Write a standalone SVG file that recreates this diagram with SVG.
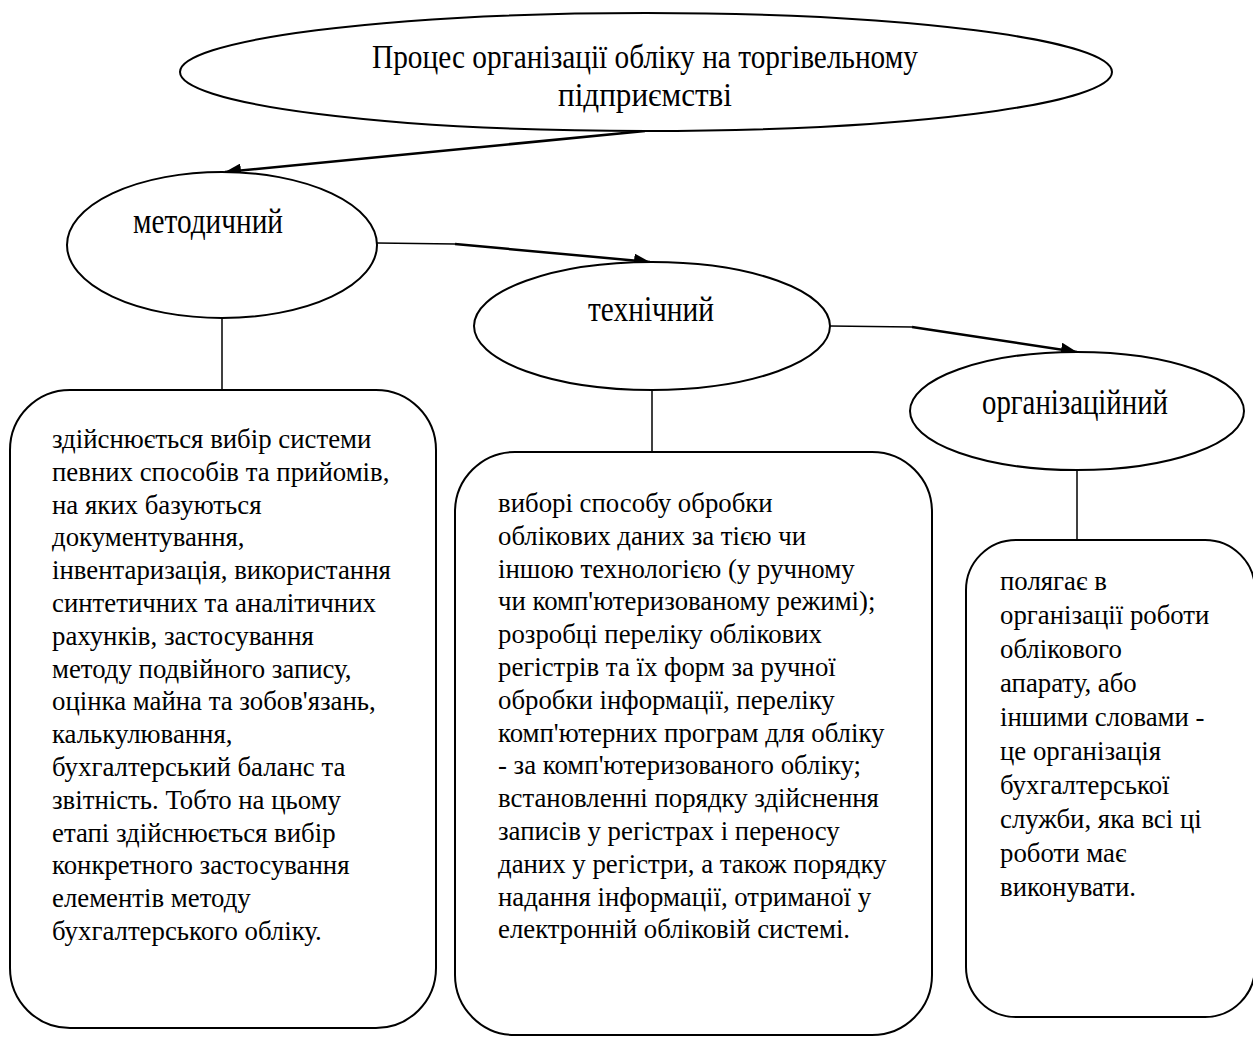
<svg xmlns="http://www.w3.org/2000/svg" width="1253" height="1037" viewBox="0 0 1253 1037">
<style>
.shape{fill:#fff;stroke:#000;stroke-width:2}
.conn{fill:none;stroke:#000;stroke-width:2.5}
.thin{fill:none;stroke:#000;stroke-width:1.5}
.lbl{font-family:"Liberation Serif","Times New Roman",serif;font-size:29px;fill:#000}
.ttl{font-family:"Liberation Serif","Times New Roman",serif;font-size:28px;fill:#000}
.body{font-family:"Liberation Serif","Times New Roman",serif;font-size:26.8px;fill:#000}
</style>
<defs>
<marker id="arr" markerUnits="userSpaceOnUse" markerWidth="18" markerHeight="14" refX="16" refY="7" orient="auto">
<path d="M0,0 L16,7 L0,14 Z" fill="#000"/>
</marker>
</defs>
<rect width="1253" height="1037" fill="#fff"/>
<g id="connectors">
<path class="conn" d="M645,131 L225,172" marker-end="url(#arr)"/>
<path class="thin" d="M377,243 L455,244"/>
<path class="conn" d="M455,244 L650,262" marker-end="url(#arr)"/>
<path class="thin" d="M830,326 L912,327"/>
<path class="conn" d="M912,327 L1077,352" marker-end="url(#arr)"/>
<path class="thin" d="M222,318 L222,390"/>
<path class="thin" d="M652,390 L652,452"/>
<path class="thin" d="M1077,470 L1077,540"/>
</g>
<g id="root">
<ellipse class="shape" cx="646" cy="72" rx="466" ry="59"/>
<text class="ttl" x="645" y="68" text-anchor="middle" textLength="546" lengthAdjust="spacingAndGlyphs" transform="translate(0,68) scale(1,1.2) translate(0,-68)">Процес організації обліку на торгівельному</text>
<text class="ttl" x="645" y="106" text-anchor="middle" textLength="174" lengthAdjust="spacingAndGlyphs" transform="translate(0,106) scale(1,1.2) translate(0,-106)">підприємстві</text>
</g>
<g id="metodychnyi">
<ellipse class="shape" cx="222" cy="245" rx="155" ry="73"/>
<text class="lbl" x="208" y="233" text-anchor="middle" textLength="150" lengthAdjust="spacingAndGlyphs" transform="translate(0,233) scale(1,1.25) translate(0,-233)">методичний</text>
</g>
<g id="tekhnichnyi">
<ellipse class="shape" cx="652" cy="326" rx="178" ry="64"/>
<text class="lbl" x="651" y="321" text-anchor="middle" textLength="126" lengthAdjust="spacingAndGlyphs" transform="translate(0,321) scale(1,1.25) translate(0,-321)">технічний</text>
</g>
<g id="orhanizatsiinyi">
<ellipse class="shape" cx="1077" cy="411" rx="167" ry="59"/>
<text class="lbl" x="1075" y="414" text-anchor="middle" textLength="186" lengthAdjust="spacingAndGlyphs" transform="translate(0,414) scale(1,1.25) translate(0,-414)">організаційний</text>
</g>
<g id="box1">
<rect class="shape" x="10" y="390" width="426" height="638" rx="60"/>
<text class="body" x="52" y="448">
<tspan x="52" dy="0">здійснюється вибір системи</tspan>
<tspan x="52" dy="32.8">певних способів та прийомів,</tspan>
<tspan x="52" dy="32.8">на яких базуються</tspan>
<tspan x="52" dy="32.8">документування,</tspan>
<tspan x="52" dy="32.8">інвентаризація, використання</tspan>
<tspan x="52" dy="32.8">синтетичних та аналітичних</tspan>
<tspan x="52" dy="32.8">рахунків, застосування</tspan>
<tspan x="52" dy="32.8">методу подвійного запису,</tspan>
<tspan x="52" dy="32.8">оцінка майна та зобов'язань,</tspan>
<tspan x="52" dy="32.8">калькулювання,</tspan>
<tspan x="52" dy="32.8">бухгалтерський баланс та</tspan>
<tspan x="52" dy="32.8">звітність. Тобто на цьому</tspan>
<tspan x="52" dy="32.8">етапі здійснюється вибір</tspan>
<tspan x="52" dy="32.8">конкретного застосування</tspan>
<tspan x="52" dy="32.8">елементів методу</tspan>
<tspan x="52" dy="32.8">бухгалтерського обліку.</tspan>
</text>
</g>
<g id="box2">
<rect class="shape" x="455" y="452" width="477" height="583" rx="60"/>
<text class="body" x="498" y="512">
<tspan x="498" dy="0">виборі способу обробки</tspan>
<tspan x="498" dy="32.8">облікових даних за тією чи</tspan>
<tspan x="498" dy="32.8">іншою технологією (у ручному</tspan>
<tspan x="498" dy="32.8">чи комп'ютеризованому режимі);</tspan>
<tspan x="498" dy="32.8">розробці переліку облікових</tspan>
<tspan x="498" dy="32.8">регістрів та їх форм за ручної</tspan>
<tspan x="498" dy="32.8">обробки інформації, переліку</tspan>
<tspan x="498" dy="32.8">комп'ютерних програм для обліку</tspan>
<tspan x="498" dy="32.8">- за комп'ютеризованого обліку;</tspan>
<tspan x="498" dy="32.8">встановленні порядку здійснення</tspan>
<tspan x="498" dy="32.8">записів у регістрах і переносу</tspan>
<tspan x="498" dy="32.8">даних у регістри, а також порядку</tspan>
<tspan x="498" dy="32.8">надання інформації, отриманої у</tspan>
<tspan x="498" dy="32.8">електронній обліковій системі.</tspan>
</text>
</g>
<g id="box3">
<rect class="shape" x="966" y="540" width="289" height="477" rx="50"/>
<text class="body" x="1000" y="590">
<tspan x="1000" dy="0">полягає в</tspan>
<tspan x="1000" dy="34">організації роботи</tspan>
<tspan x="1000" dy="34">облікового</tspan>
<tspan x="1000" dy="34">апарату, або</tspan>
<tspan x="1000" dy="34">іншими словами -</tspan>
<tspan x="1000" dy="34">це організація</tspan>
<tspan x="1000" dy="34">бухгалтерської</tspan>
<tspan x="1000" dy="34">служби, яка всі ці</tspan>
<tspan x="1000" dy="34">роботи має</tspan>
<tspan x="1000" dy="34">виконувати.</tspan>
</text>
</g>
</svg>
